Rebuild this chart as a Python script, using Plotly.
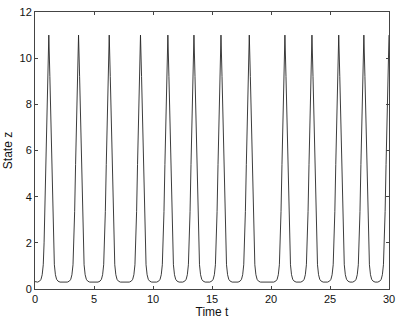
import plotly.graph_objects as go

# Peak times of the spikes
peak_times = [1.17, 3.69, 6.29, 8.94, 11.26, 13.47, 15.76, 18.16, 21.18, 23.47, 25.74, 27.87, 30.0]
# Shape of one spike: offset from peak time and value of z
pulse_offsets = [-0.95, -0.78, -0.66, -0.56, -0.47, -0.40, -0.33, -0.25, -0.18, -0.09, 0.0,
                 0.09, 0.18, 0.25, 0.33, 0.40, 0.47, 0.56, 0.66, 0.78, 0.95]
pulse_values = [0.30, 0.34, 0.42, 0.62, 1.05, 2.0, 3.35, 5.4, 7.2, 9.2, 11.0,
                9.2, 7.2, 5.4, 3.35, 2.0, 1.05, 0.62, 0.42, 0.34, 0.30]
t_start, z_start = 0.0, 0.32

t_vals = [t_start]
z_vals = [z_start]
for p in peak_times:
    for o, v in zip(pulse_offsets, pulse_values):
        t = p + o
        if t_vals[-1] < t <= 30.0001:
            t_vals.append(t)
            z_vals.append(v)

x_ticks = [0, 5, 10, 15, 20, 25, 30]
y_ticks = [0, 2, 4, 6, 8, 10, 12]

fig = go.Figure()
fig.add_trace(go.Scatter(x=t_vals, y=z_vals, mode="lines",
                         line=dict(color="#262626", width=0.9), showlegend=False))

axis_common = dict(showgrid=False, zeroline=False, showline=True, linecolor="#444444",
                   linewidth=1, mirror="ticks", ticks="inside", ticklen=3,
                   tickcolor="#444444", tickwidth=1,
                   tickfont=dict(family="Liberation Sans, Arial", size=11, color="#111111"))

fig.update_layout(
    width=401, height=322,
    margin=dict(l=35, r=8, t=6, b=33),
    paper_bgcolor="white", plot_bgcolor="white",
    xaxis=dict(range=[0, 30], tickvals=x_ticks,
               title=dict(text="Time t", standoff=2,
                          font=dict(family="Liberation Sans, Arial", size=12, color="#111111")),
               **axis_common),
    yaxis=dict(range=[0, 12], tickvals=y_ticks,
               title=dict(text="State z", standoff=4,
                          font=dict(family="Liberation Sans, Arial", size=12, color="#111111")),
               **axis_common),
)

fig.write_html("out.html", config={"displayModeBar": False},
               post_script="document.body.style.margin='0';document.body.style.padding='0';document.body.style.overflow='hidden';")
